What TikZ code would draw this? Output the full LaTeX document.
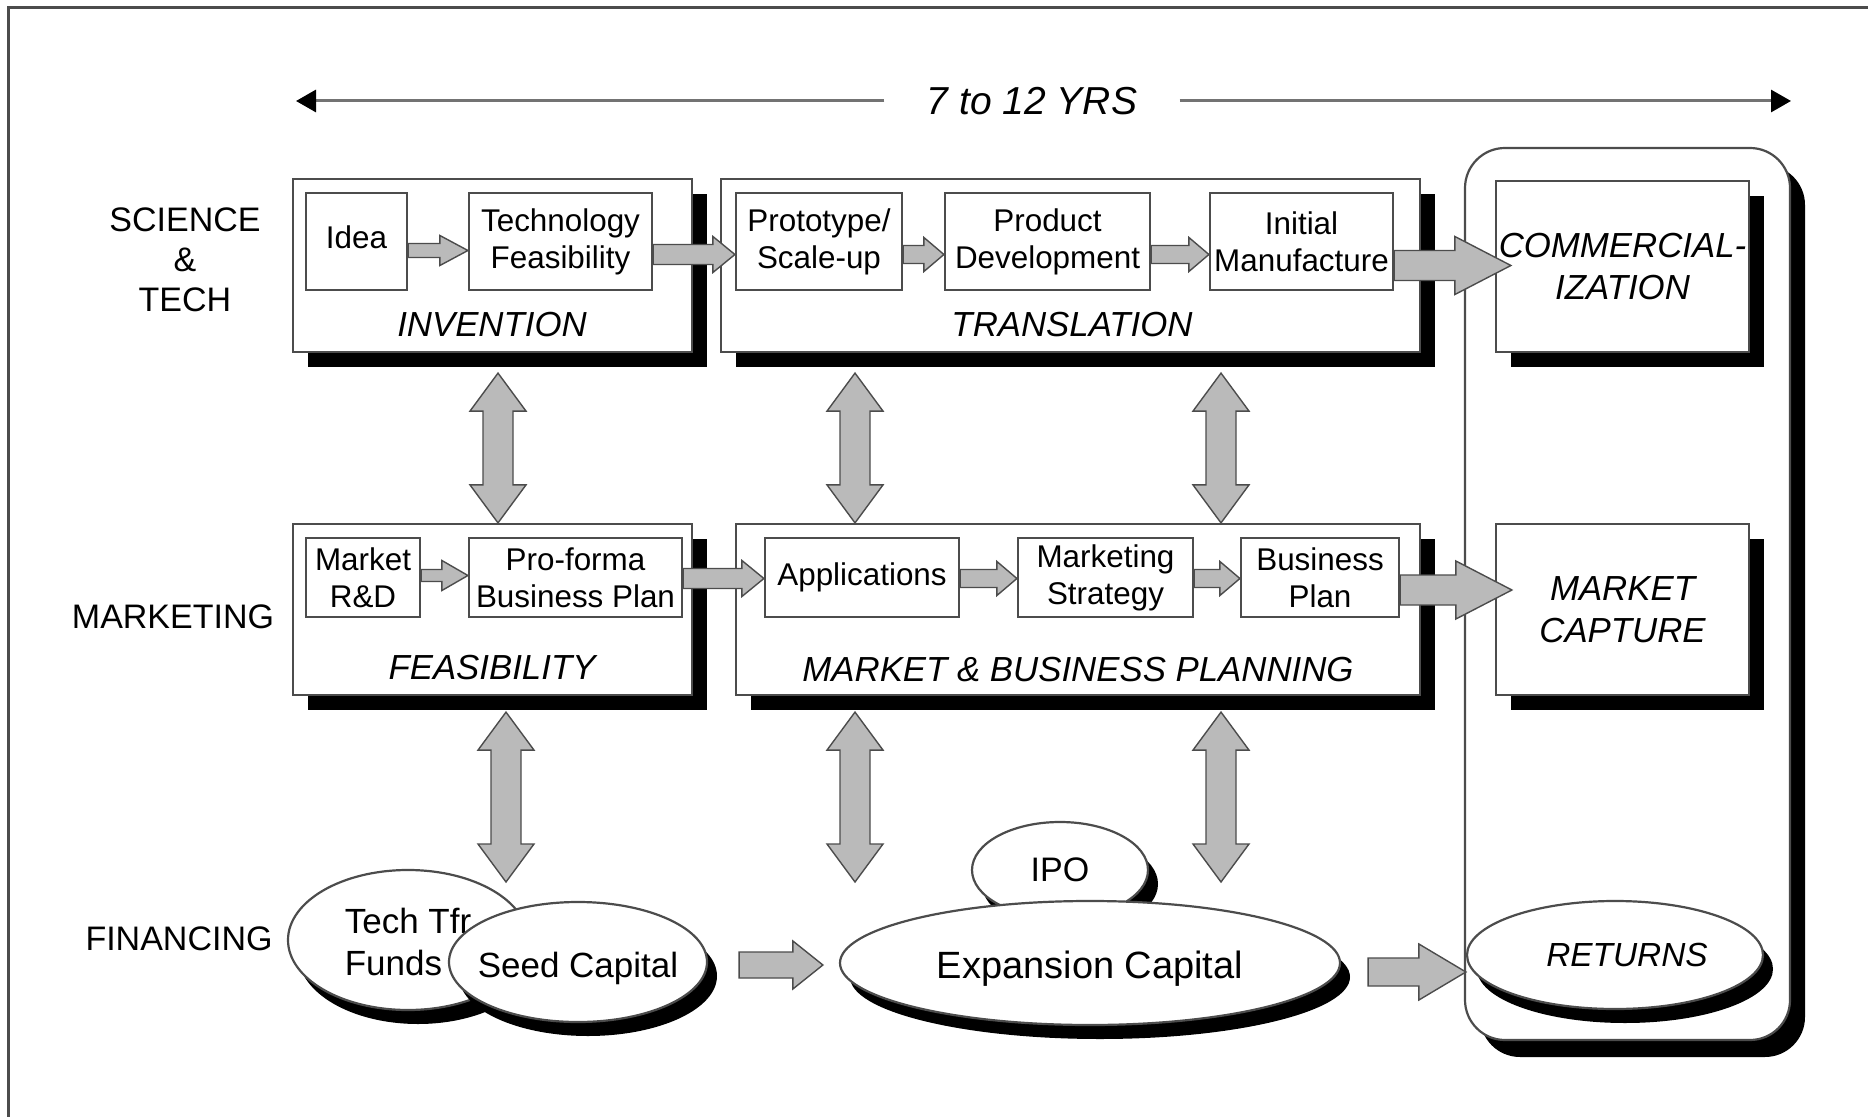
\documentclass[tikz,border=0pt]{standalone}
\usepackage{fontspec}
\setmainfont{Liberation Sans}
\usetikzlibrary{shapes.geometric,shadows,calc,arrows.meta}

\newcommand\hfat[5]{%
  \path[fatarrow] let \p1=#1, \p2=#2 in
   (\x1,{\y1+#3}) -- ({\x2-#5},{\y1+#3}) -- ({\x2-#5},{\y1+#4}) -- (\x2,\y1)
   -- ({\x2-#5},{\y1-#4}) -- ({\x2-#5},{\y1-#3}) -- (\x1,{\y1-#3}) -- cycle;}
\newcommand\vdfat[5]{%
  \path[fatarrow] let \p1=#1, \p2=#2 in
   (\x1,\y1) -- ({\x1+#4},{\y1-#5}) -- ({\x1+#3},{\y1-#5}) -- ({\x1+#3},{\y2+#5})
   -- ({\x1+#4},{\y2+#5}) -- (\x1,\y2) -- ({\x1-#4},{\y2+#5}) -- ({\x1-#3},{\y2+#5})
   -- ({\x1-#3},{\y1-#5}) -- ({\x1-#4},{\y1-#5}) -- cycle;}

\tikzset{
  box/.style={draw=black!70, line width=1.1pt, fill=white, inner sep=0pt, align=center},
  bigbox/.style={box, drop shadow={shadow xshift=7.5pt, shadow yshift=-7.5pt, fill=black, opacity=1}},
  colbox/.style={box, rounded corners=20pt, drop shadow={shadow xshift=7.5pt, shadow yshift=-8.5pt, fill=black, opacity=1}},
  inbox/.style={box, font=\fontsize{15.7}{18.5}\selectfont},
  lab/.style={font=\fontsize{17.4}{21}\selectfont\itshape, inner sep=0pt, align=center},
  rowlab/.style={font=\fontsize{17}{20}\selectfont, inner sep=0pt, align=center},
  oval/.style={ellipse, draw=black!70, line width=1.1pt, fill=white, inner sep=0pt,
     drop shadow={shadow xshift=5pt, shadow yshift=-7pt, fill=black, opacity=1}},
  elab/.style={font=\fontsize{17.5}{21}\selectfont, inner sep=0pt},
  fatarrow/.style={draw=black!70, line width=0.7pt, fill=black!27, line join=miter},
  tline/.style={draw=black!55, line width=1.5pt, -{Triangle[length=10pt,width=11pt,color=black]}},
  frame/.style={draw=black!70, line width=1.5pt}
}

\begin{document}
\begin{tikzpicture}[x=0.5pt,y=-0.5pt]
\useasboundingbox (0,0) rectangle (1868,1117);
% scanned frame
\draw[frame] (8,1117) -- (8,8) -- (1868,8);

% time line
\node[font=\fontsize{19.5}{22}\selectfont\itshape, inner xsep=21pt, inner ysep=0pt] (yrs) at (1032,101) {7 to 12 YRS};
\coordinate (tl) at (296,101);
\coordinate (tr) at (1791,101);
\draw[tline] (yrs.west) -- (tl);
\draw[tline] (yrs.east) -- (tr);

% row labels
\node[rowlab] (sci) at (185,260) {SCIENCE\\\&\\TECH};
\node[rowlab] (mkt) at (173,617) {MARKETING};
\node[rowlab] (fin) at (179,939) {FINANCING};

% right column
\node[colbox, minimum width=162.5pt, minimum height=446pt] (col) at (1627.5,594) {};

% group boxes
\node[bigbox, minimum width=199.5pt, minimum height=86.5pt] (inv) at (492.5,265.5) {};
\node[bigbox, minimum width=349.5pt, minimum height=86.5pt] (trans) at (1070.5,265.5) {};
\node[bigbox, lab, minimum width=126.5pt, minimum height=85.5pt] (comm) at (1622.5,266.5) {COMMERCIAL-\\IZATION};
\node[bigbox, minimum width=199.5pt, minimum height=85.5pt] (feas) at (492.5,609.5) {};
\node[bigbox, minimum width=342pt, minimum height=85.5pt] (mbp) at (1078,609.5) {};
\node[bigbox, lab, minimum width=126.5pt, minimum height=85.5pt] (mc) at (1622.5,609.5) {MARKET\\CAPTURE};

\node[lab] (invl) at (492,325) {INVENTION};
\node[lab] (transl) at (1072,325) {TRANSLATION};
\node[lab] (feasl) at (492,668) {FEASIBILITY};
\node[lab] (mbpl) at (1078,670) {MARKET \& BUSINESS PLANNING};

% inner boxes
\node[inbox, minimum width=50.5pt, minimum height=48.5pt] (idea) at (356.5,241.5) {};
\node[font=\fontsize{15.7}{18.5}\selectfont, inner sep=0pt] (ideat) at (356.5,237) {Idea};
\node[inbox, minimum width=91.5pt, minimum height=48.5pt] (tf) at (560.5,241.5) {Technology\\Feasibility};
\node[inbox, minimum width=83pt, minimum height=48.5pt] (proto) at (819,241.5) {Prototype/\\Scale-up};
\node[inbox, minimum width=102.5pt, minimum height=48.5pt] (pd) at (1047.5,241.5) {Product\\Development};
\node[inbox, minimum width=91.5pt, minimum height=48.5pt] (im) at (1301.5,241.5) {Initial\\Manufacture};
\node[inbox, minimum width=57pt, minimum height=39.5pt] (mrd) at (363,577.5) {Market\\R\&D};
\node[inbox, minimum width=106.5pt, minimum height=39.5pt] (pf) at (575.5,577.5) {Pro-forma\\Business Plan};
\node[inbox, minimum width=97pt, minimum height=39.5pt] (app) at (862,577.5) {Applications};
\node[inbox, minimum width=87.5pt, minimum height=39.5pt] (ms) at (1105.5,577.5) {Marketing\\Strategy};
\node[inbox, minimum width=79pt, minimum height=39.5pt] (bp) at (1320,577.5) {Business\\Plan};

% ellipses
\node[oval, minimum width=120pt, minimum height=70pt, label={[elab, align=left, yshift=-1pt]center:Tech Tfr\\Funds}] (ttf) at (408,940) {};
\node[oval, minimum width=129pt, minimum height=60pt, label={[elab, yshift=-3pt]center:Seed Capital}] (seed) at (578,962) {};
\node[oval, minimum width=88pt, minimum height=48pt, label={[elab, font=\fontsize{17}{20}\selectfont]center:IPO}] (ipo) at (1060,870) {};
\node[oval, minimum width=250pt, minimum height=62pt, label={[elab, yshift=-3pt, font=\fontsize{19}{22}\selectfont]center:Expansion Capital}] (exp) at (1090,963) {};
\node[oval, minimum width=148pt, minimum height=54pt, label={[elab, xshift=6pt, font=\fontsize{16.7}{20}\selectfont\itshape]center:RETURNS}] (ret) at (1615,955) {};

% horizontal fat arrows, row 1
\hfat{($(idea.east)+(0,9)$)}{(tf.west)}{3.5pt}{7.5pt}{14pt}
\hfat{($(tf.east)+(0,13)$)}{(proto.west)}{5pt}{9pt}{11pt}
\hfat{($(proto.east)+(0,13)$)}{(pd.west)}{4.5pt}{8.5pt}{10pt}
\hfat{($(pd.east)+(0,13)$)}{(im.west)}{4.5pt}{8.5pt}{10pt}
\hfat{($(im.east)+(0,24)$)}{($(comm.west)+(16,0)$)}{7.5pt}{14.5pt}{28pt}
% row 2
\hfat{($(mrd.east)+(0,-2)$)}{(pf.west)}{3pt}{7.5pt}{13pt}
\hfat{($(pf.east)+(0,1)$)}{(app.west)}{5pt}{9pt}{11pt}
\hfat{($(app.east)+(0,1)$)}{(ms.west)}{4.5pt}{8.5pt}{10pt}
\hfat{($(ms.east)+(0,1)$)}{(bp.west)}{4.5pt}{8.5pt}{10pt}
\hfat{($(bp.east)+(0,12.5)$)}{($(mc.west)+(17,0)$)}{7.5pt}{14.5pt}{28pt}
% row 3
\hfat{($(seed.east)+(31,3)$)}{($(exp.west)+(-16,2)$)}{6.5pt}{12pt}{15pt}
\hfat{($(exp.east)+(27,9)$)}{(ret.west)}{7pt}{14pt}{23.5pt}

% vertical double arrows
\vdfat{($(inv.south)+(5.5,20)$)}{(feas.north)}{7.5pt}{14pt}{19pt}
\vdfat{($(trans.south)+(-215.5,20)$)}{(mbp.north)}{7.5pt}{14pt}{19pt}
\vdfat{($(trans.south)+(150.5,20)$)}{(mbp.north)}{7.5pt}{14pt}{19pt}
\coordinate (fa) at (506,882);
\coordinate (fb) at (855,882);
\coordinate (fc) at (1221,882);
\vdfat{($(feas.south)+(13.5,16)$)}{(fa)}{7.5pt}{14pt}{19pt}
\vdfat{($(mbp.south)+(-223,16)$)}{(fb)}{7.5pt}{14pt}{19pt}
\vdfat{($(mbp.south)+(143,16)$)}{(fc)}{7.5pt}{14pt}{19pt}
\end{tikzpicture}
\end{document}
